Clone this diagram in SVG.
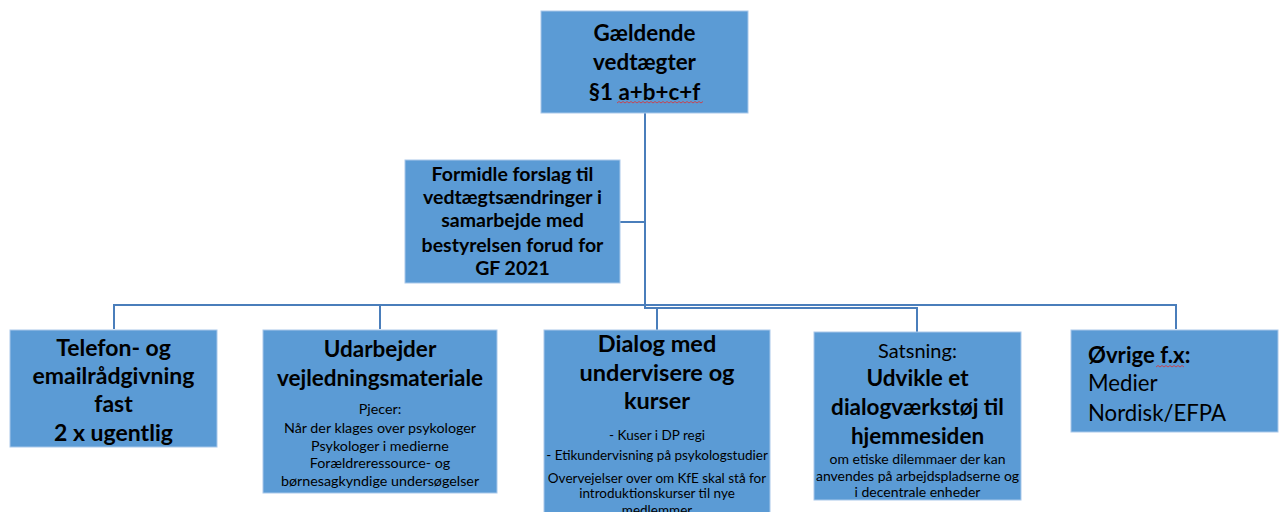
<svg xmlns="http://www.w3.org/2000/svg" width="1284" height="512" viewBox="0 0 1284 512">
<style>
.box{fill:#5b9bd5;stroke:#a9c8ea;stroke-width:1}
.con{fill:none;stroke:#4a7ebb;stroke-width:2}
text{font-family:Lato,"Open Sans",sans-serif;fill:#000}
.c{text-anchor:middle}
.b{font-weight:bold}
.sq{fill:none;stroke:#e03030;stroke-width:0.8}
</style>
<rect width="1284" height="512" fill="#fff"/>
<g id="connectors">
<path class="con" d="M645 113 V309"/>
<path class="con" d="M620 222 H645"/>
<path class="con" d="M114 329 V305 H1176 V329"/>
<path class="con" d="M380 329 V305"/>
<path class="con" d="M645 308 H917 V332"/>
<path class="con" d="M657 308 V330"/>
</g>
<g id="n-top">
<rect class="box" x="541" y="11" width="207" height="102"/>
<text class="c b" font-size="22.4"><tspan x="644.5" y="41">Gældende</tspan><tspan x="644.5" y="70">vedtægter</tspan><tspan x="644.5" y="100">§1 a+b+c+f</tspan></text>
<path class="sq" d="M617 103 l2 -1.5 l2 1.5 l2 -1.5 l2 1.5 l2 -1.5 l2 1.5 l2 -1.5 l2 1.5 l2 -1.5 l2 1.5 l2 -1.5 l2 1.5 l2 -1.5 l2 1.5 l2 -1.5 l2 1.5 l2 -1.5 l2 1.5 l2 -1.5 l2 1.5 l2 -1.5 l2 1.5 l2 -1.5 l2 1.5 l2 -1.5 l2 1.5 l2 -1.5 l2 1.5 l2 -1.5 l2 1.5 l2 -1.5 l2 1.5 l2 -1.5 l2 1.5 l2 -1.5 l2 1.5 l2 -1.5 l2 1.5 l2 -1.5 l2 1.5 l2 -1.5 l2 1.5 l2 -1.5"/>
</g>
<g id="n-middle">
<rect class="box" x="405" y="160" width="215" height="123"/>
<text class="c b" font-size="19.5"><tspan x="512.5" y="181">Formidle forslag til</tspan><tspan x="512.5" y="204">vedtægtsændringer i</tspan><tspan x="512.5" y="227">samarbejde med</tspan><tspan x="512.5" y="252">bestyrelsen forud for</tspan><tspan x="512.5" y="275">GF 2021</tspan></text>
</g>
<g id="n-telefon">
<rect class="box" x="10" y="330" width="207" height="117"/>
<text class="c b" font-size="23"><tspan x="113.5" y="356">Telefon- og</tspan><tspan x="113.5" y="384">emailrådgivning</tspan><tspan x="113.5" y="412">fast</tspan><tspan x="113.5" y="441">2 x ugentlig</tspan></text>
</g>
<g id="n-udarbejder">
<rect class="box" x="263" y="330" width="234" height="163"/>
<text class="c b" font-size="22.5"><tspan x="380" y="357">Udarbejder</tspan><tspan x="380" y="386">vejledningsmateriale</tspan></text>
<text class="c" font-size="14.3"><tspan x="380" y="414">Pjecer:</tspan><tspan x="380" y="433">Når der klages over psykologer</tspan><tspan x="380" y="451">Psykologer i medierne</tspan><tspan x="380" y="468">Forældreressource- og</tspan><tspan x="380" y="486">børnesagkyndige undersøgelser</tspan></text>
</g>
<g id="n-dialog">
<rect class="box" x="544" y="330" width="226" height="190"/>
<text class="c b" font-size="23.5"><tspan x="657" y="352">Dialog med</tspan><tspan x="657" y="381">undervisere og</tspan><tspan x="657" y="409">kurser</tspan></text>
<text class="c" font-size="13.5"><tspan x="657" y="440">- Kuser i DP regi</tspan><tspan x="657" y="460">- Etikundervisning på psykologstudier</tspan><tspan x="657" y="483">Overvejelser over om KfE skal stå for</tspan><tspan x="657" y="498">introduktionskurser til nye</tspan><tspan x="657" y="515">medlemmer</tspan></text>
</g>
<g id="n-satsning">
<rect class="box" x="814" y="332" width="207" height="168"/>
<text class="c" font-size="20"><tspan x="917.5" y="358">Satsning:</tspan></text>
<text class="c b" font-size="22.5"><tspan x="917.5" y="386">Udvikle et</tspan><tspan x="917.5" y="415">dialogværkstøj til</tspan><tspan x="917.5" y="444">hjemmesiden</tspan></text>
<text class="c" font-size="14"><tspan x="917.5" y="464">om etiske dilemmaer der kan</tspan><tspan x="917.5" y="481">anvendes på arbejdspladserne og</tspan><tspan x="917.5" y="497">i decentrale enheder</tspan></text>
</g>
<g id="n-ovrige">
<rect class="box" x="1071" y="330" width="207" height="102"/>
<text font-size="22.2"><tspan class="b" x="1088" y="363">Øvrige f.x:</tspan><tspan x="1088" y="391">Medier</tspan><tspan x="1088" y="421">Nordisk/EFPA</tspan></text>
<path class="sq" d="M1156 367 l2 -1.5 l2 1.5 l2 -1.5 l2 1.5 l2 -1.5 l2 1.5 l2 -1.5 l2 1.5 l2 -1.5 l2 1.5 l2 -1.5 l2 1.5 l2 -1.5 l2 1.5"/>
</g>
</svg>
